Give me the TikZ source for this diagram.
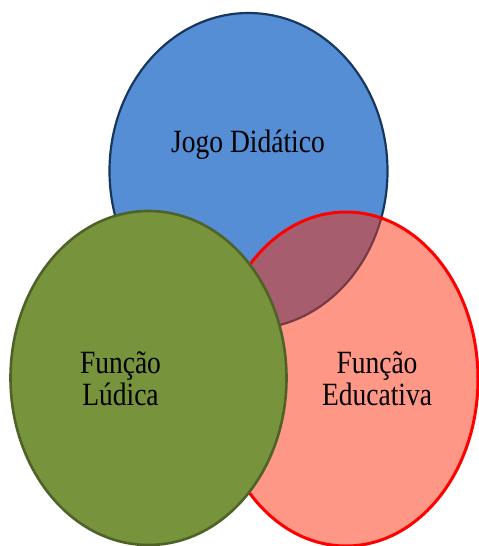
\documentclass[tikz,border=0pt]{standalone}
\usepackage{fontspec}
\setmainfont{Liberation Serif}
\usepackage{graphicx}
\definecolor{bluefill}{RGB}{85,142,213}
\definecolor{blueline}{RGB}{23,55,94}
\definecolor{greenfill}{RGB}{119,147,60}
\definecolor{greenline}{RGB}{79,98,40}
\definecolor{redfill}{RGB}{255,151,135}
\definecolor{redline}{RGB}{255,0,0}
\definecolor{mixfill}{RGB}{166,94,110}
\definecolor{mixline}{RGB}{120,58,68}
\tikzset{
  lbl/.style={anchor=base, inner sep=0pt, font=\fontsize{27.5}{30}\selectfont},
}
\newcommand{\tallt}[1]{\scalebox{1}[1.18]{#1}}
\begin{document}
\begin{tikzpicture}[x=1pt,y=-1pt]
\useasboundingbox (0,0) rectangle (479,546);
\coordinate (cb) at (248.5,171);
\coordinate (cr) at (346,379);
\coordinate (cg) at (148.5,378);
% blue
\fill[bluefill] (cb) ellipse [x radius=139, y radius=158];
\draw[blueline, line width=2.2pt] (cb) ellipse [x radius=139, y radius=158];
% red fill
\fill[redfill] (cr) ellipse [x radius=132, y radius=167];
% overlap
\begin{scope}
  \clip (cr) ellipse [x radius=132, y radius=167];
  \fill[mixfill] (cb) ellipse [x radius=139, y radius=158];
  \draw[mixline, line width=2.2pt] (cb) ellipse [x radius=139, y radius=158];
\end{scope}
\draw[redline, line width=3pt] (cr) ellipse [x radius=132, y radius=167];
% green
\fill[greenfill] (cg) ellipse [x radius=138, y radius=167];
\draw[greenline, line width=2.6pt] (cg) ellipse [x radius=138, y radius=167];
% labels
\node[lbl] (jogo) at (248,152) {\tallt{Jogo Didático}};
\node[lbl] (fl1) at (120.5,373) {\tallt{Função}};
\node[lbl] (fl2) at (120.5,405) {\tallt{Lúdica}};
\node[lbl] (fe1) at (377,373) {\tallt{Função}};
\node[lbl] (fe2) at (377,405) {\tallt{Educativa}};
\end{tikzpicture}
\end{document}
